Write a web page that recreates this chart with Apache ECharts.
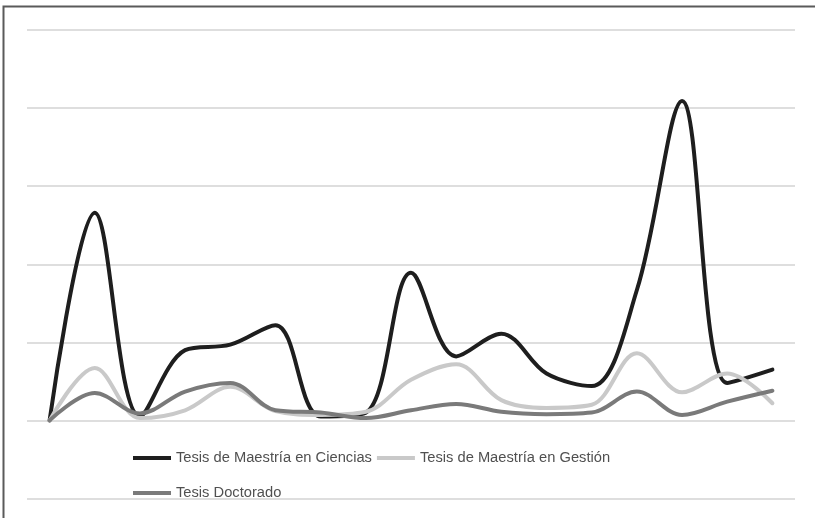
<!DOCTYPE html>
<html>
<head>
<meta charset="utf-8">
<script src="https://cdn.jsdelivr.net/npm/echarts@6/dist/echarts.min.js"></script>
<style>
  html, body { margin: 0; padding: 0; background: #fff; }
  #chart { width: 815px; height: 518px; }
</style>
</head>
<body>
<div id="chart"></div>
<script>
// Thesis counts per period (no axis labels in the source figure)
const periods = ["1", "2", "3", "4", "5", "6", "7", "8", "9", "10", "11", "12", "13", "14", "15", "16", "17"]

const ciencias = [0, 26.6, 0.5, 9.0, 9.7, 12.2, 0.5, 1.0, 18.9, 8.2, 11.1, 6.0, 4.4, 16.7, 40.9, 4.8, 6.5]
const gestion = [0, 6.7, 0.3, 1.3, 4.3, 1.2, 0.7, 1.1, 5.2, 7.2, 2.6, 1.6, 2.0, 8.6, 3.6, 6.0, 2.2]
const doctorado = [0, 3.5, 0.9, 3.7, 4.8, 1.3, 1.0, 0.3, 1.3, 2.1, 1.1, 0.8, 1.0, 3.7, 0.7, 2.4, 3.8]

const seriesNames = ["Tesis de Maestría en Ciencias", "Tesis de Maestría en Gestión", "Tesis Doctorado"]
const seriesColors = ["#1e1e1e", "#c9c9c9", "#7a7a7a"]

function lineSeries(name, data, color) {
  return {
    name,
    type: "line",
    data,
    smooth: 0.35,
    showSymbol: false,
    symbol: "none",
    lineStyle: {color, width: 4, cap: "round", join: "round"},
    itemStyle: {color},
  }
}

const chart = echarts.init(document.getElementById("chart"), null, {renderer: "canvas"})

chart.setOption({
  backgroundColor: "#fff",
  animation: false,
  graphic: [
    {
      type: "rect",
      shape: {x: 3.5, y: 6.5, width: 1000, height: 1000},
      style: {fill: "none", stroke: "#5a5a5a", lineWidth: 2},
      silent: true,
    },
  ],
  grid: {left: 27, right: 20, top: 30, bottom: 19.5},
  legend: {
    left: 128,
    top: 438,
    width: 510,
    itemWidth: 38,
    itemHeight: 4,
    itemGap: 5,
    icon: "rect",
    textStyle: {
      fontFamily: "'Liberation Sans', Arial, sans-serif",
      fontSize: 14.7,
      color: "#505050",
      lineHeight: 30,
    },
    data: seriesNames,
  },
  xAxis: {
    type: "category",
    data: periods,
    boundaryGap: true,
    axisLine: {show: false},
    axisTick: {show: false},
    axisLabel: {show: false},
    splitLine: {show: false},
  },
  yAxis: {
    type: "value",
    min: -10,
    max: 50,
    interval: 10,
    axisLine: {show: false},
    axisTick: {show: false},
    axisLabel: {show: false},
    splitLine: {lineStyle: {color: "#d3d3d3", width: 1.5}},
  },
  series: [
    lineSeries(seriesNames[0], ciencias, seriesColors[0]),
    lineSeries(seriesNames[1], gestion, seriesColors[1]),
    lineSeries(seriesNames[2], doctorado, seriesColors[2]),
  ],
})
</script>
</body>
</html>
